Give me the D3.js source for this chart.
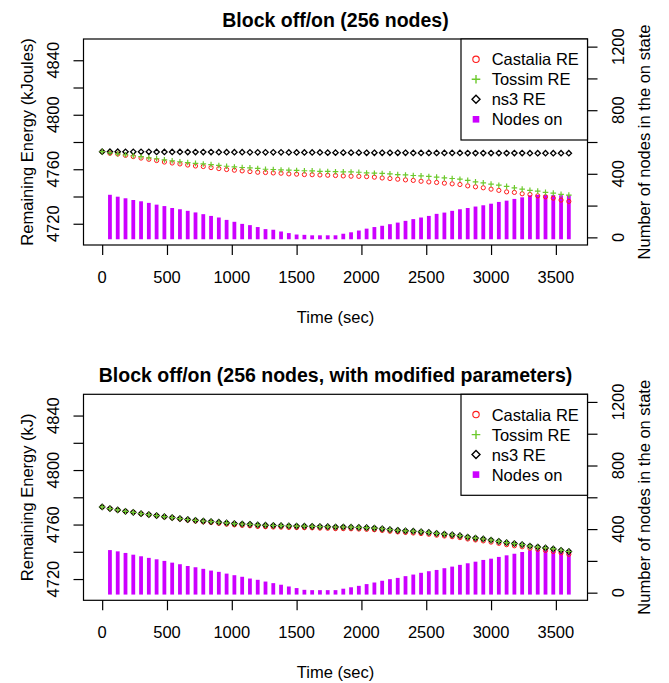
<!DOCTYPE html>
<html><head><meta charset="utf-8">
<script src="https://cdn.jsdelivr.net/npm/d3@7"></script>
<style>body{margin:0;background:#fff}</style>
</head><body>
<svg id="c" width="669" height="683"></svg>
<script>
// ---------------- data ----------------
const times = [0,60,120,180,240,300,360,420,480,540,600,660,720,780,840,900,960,1020,1080,1140,
  1200,1260,1320,1380,1440,1500,1560,1620,1680,1740,1800,1860,1920,1980,2040,2100,2160,2220,2280,2340,
  2400,2460,2520,2580,2640,2700,2760,2820,2880,2940,3000,3060,3120,3180,3240,3300,3360,3420,3480,3540,3600];
const barTimes = times.slice(1);

const castaliaTop = [4772.9,4771.7,4771.2,4770.2,4769.3,4768.2,4767.3,4766.4,4765.3,4764.6,
  4763.9,4763.1,4762.4,4762.0,4761.2,4760.5,4759.8,4759.3,4758.8,4758.3,
  4757.8,4757.6,4757.3,4757.1,4756.6,4756.4,4756.1,4756.0,4755.8,4755.6,
  4755.4,4755.1,4754.9,4754.8,4754.6,4754.2,4753.6,4753.2,4752.7,4752.2,
  4751.8,4751.2,4750.7,4750.3,4749.8,4749.3,4748.8,4747.8,4747.1,4746.4,
  4745.4,4744.5,4743.4,4743.0,4742.0,4741.5,4740.5,4739.8,4738.8,4737.4,4736.4];
const tossimTop = [4772.9,4772.0,4771.3,4770.6,4769.9,4769.2,4768.4,4767.7,4766.9,4766.2,
  4765.5,4764.9,4764.3,4763.9,4763.4,4762.8,4762.2,4761.7,4761.3,4761.0,
  4760.6,4760.0,4759.8,4759.5,4759.3,4759.1,4758.9,4758.8,4758.5,4758.4,
  4758.2,4758.1,4758.0,4757.8,4757.3,4757.1,4756.9,4756.6,4756.1,4755.8,
  4755.4,4755.1,4754.7,4754.2,4753.6,4753.2,4752.7,4751.8,4750.7,4750.0,
  4749.1,4748.3,4747.4,4746.4,4745.4,4744.5,4744.0,4743.0,4742.5,4741.6,4741.0];
const ns3Top = [4772.9,4772.9,4772.9,4772.8,4772.8,4772.8,4772.8,4772.7,4772.7,4772.7,
  4772.7,4772.6,4772.6,4772.6,4772.6,4772.5,4772.5,4772.5,4772.5,4772.4,
  4772.4,4772.4,4772.4,4772.4,4772.3,4772.3,4772.3,4772.3,4772.3,4772.2,
  4772.2,4772.2,4772.2,4772.2,4772.1,4772.1,4772.1,4772.1,4772.1,4772.1,
  4772.0,4772.0,4772.0,4772.0,4772.0,4772.0,4772.0,4771.9,4771.9,4771.9,
  4771.9,4771.9,4771.9,4771.9,4771.9,4771.8,4771.8,4771.8,4771.8,4771.8,4771.8];
const nodesTop = [256,244,234,223,215,205,194,185,173,165,
  155,145,134,123,113,98,86,73,65,53,
  40,36,25,15,6,4,1,1,1,1,
  11,20,31,43,53,61,71,81,92,103,
  113,123,136,144,155,165,173,182,190,200,
  211,219,230,240,253,255,255,255,253,253];

const castaliaBot = [4772.9,4771.7,4770.7,4769.7,4769.0,4767.9,4767.2,4766.5,4765.6,4764.9,
  4764.1,4763.3,4762.6,4762.0,4761.5,4760.9,4760.3,4759.8,4759.4,4759.1,
  4758.6,4758.4,4758.2,4758.1,4757.9,4757.8,4757.7,4757.6,4757.4,4757.3,
  4757.0,4757.0,4756.9,4756.7,4756.5,4756.2,4755.7,4755.1,4754.6,4754.2,
  4753.8,4753.4,4752.9,4752.2,4751.6,4751.1,4750.4,4749.4,4748.7,4748.0,
  4747.1,4746.2,4745.2,4744.4,4743.7,4742.6,4741.8,4741.0,4740.2,4739.2,4738.2];
const tossimBot = [4772.9,4771.7,4770.7,4769.7,4769.0,4768.0,4767.3,4766.6,4765.8,4765.1,
  4764.4,4763.7,4763.1,4762.6,4762.2,4761.7,4761.2,4760.7,4760.4,4760.2,
  4759.7,4759.5,4759.3,4759.2,4759.0,4758.9,4758.8,4758.7,4758.5,4758.4,
  4758.2,4758.2,4758.1,4757.9,4757.7,4757.4,4756.9,4756.3,4755.8,4755.4,
  4755.1,4754.7,4754.2,4753.5,4753.0,4752.5,4751.8,4750.8,4750.1,4749.4,
  4748.6,4747.7,4746.7,4746.0,4745.3,4744.2,4743.5,4742.8,4742.1,4741.1,4740.2];
const ns3Bot = [4772.9,4771.7,4770.7,4769.7,4769.0,4768.0,4767.3,4766.6,4765.8,4765.1,
  4764.4,4763.7,4763.1,4762.6,4762.2,4761.7,4761.2,4760.7,4760.4,4760.2,
  4759.7,4759.5,4759.3,4759.2,4759.0,4758.9,4758.8,4758.7,4758.5,4758.4,
  4758.2,4758.2,4758.1,4757.9,4757.7,4757.4,4756.9,4756.3,4755.8,4755.4,
  4755.1,4754.7,4754.2,4753.5,4753.0,4752.5,4751.8,4750.8,4750.1,4749.4,
  4748.6,4747.7,4746.7,4746.0,4745.3,4744.2,4743.5,4742.8,4742.1,4741.1,4740.2];
const nodesBot = [256,248,238,227,217,207,198,188,177,167,
  156,148,138,127,119,108,98,88,77,69,
  58,48,38,27,17,6,4,4,4,4,
  13,22,31,42,52,63,73,81,92,102,
  113,123,131,142,152,163,173,183,194,202,
  213,223,233,244,255,256,256,256,256,255];

const xTicks = [0,500,1000,1500,2000,2500,3000,3500];
const yTicks = [4720,4740,4760,4780,4800,4820,4840];
const yLabels = [4720,4760,4800,4840];
const y2Ticks = [0,200,400,600,800,1000,1200];
const y2Labels = [0,400,800,1200];
const legendLabels = ["Castalia RE","Tossim RE","ns3 RE","Nodes on"];
const titles = ["Block off/on (256 nodes)","Block off/on (256 nodes, with modified parameters)"];
const yTitles = ["Remaining Energy (kJoules)","Remaining Energy (kJ)"];
const xTitle = "Time (sec)";
const y2Title = "Number of nodes in the on state";

// ---------------- drawing ----------------
const FONT = '"Liberation Sans", Arial, Helvetica, sans-serif';
const RED = "#ff1a1a", GREEN = "#6cc92c", MAG = "#cc00ff";
const svg = d3.select("#c");

function pad(lo, hi){ const e=(hi-lo)*0.04; return [lo-e, hi+e]; }

function diamond(g, cx, cy, h, sw){
  g.append("path").attr("d",`M${cx},${cy-h}L${cx+h},${cy}L${cx},${cy+h}L${cx-h},${cy}Z`)
   .attr("fill","none").attr("stroke","#000").attr("stroke-width",sw);
}
function plus(g, cx, cy, h, sw){
  g.append("path").attr("d",`M${cx-h},${cy}H${cx+h}M${cx},${cy-h}V${cy+h}`)
   .attr("stroke",GREEN).attr("stroke-width",sw).attr("fill","none");
}

function panel(oy, k, cast, toss, ns3, nodes){
  const L=83.5, R=587.5, T=39+oy, B=245+oy;
  const x = d3.scaleLinear().domain(pad(0,3600)).range([L,R]);
  const y = d3.scaleLinear().domain(pad(4710,4850)).range([B,T]);
  const y2 = d3.scaleLinear().domain(pad(0,1200)).range([B,T]);
  const g = svg.append("g").attr("font-family",FONT);

  // bars (nodes on)
  g.append("g").selectAll("line").data(nodes).join("line")
    .attr("x1",(d,i)=>x(barTimes[i])).attr("x2",(d,i)=>x(barTimes[i]))
    .attr("y1",y2(0)).attr("y2",d=>y2(d))
    .attr("stroke",MAG).attr("stroke-width",3.8).attr("stroke-linecap","square");

  // castalia circles
  g.append("g").selectAll("circle").data(cast).join("circle")
    .attr("cx",(d,i)=>x(times[i])).attr("cy",d=>y(d)).attr("r",2.1)
    .attr("fill","none").attr("stroke",RED).attr("stroke-width",1);
  // ns3 diamonds
  const gd = g.append("g");
  ns3.forEach((d,i)=>diamond(gd, x(times[i]), y(d), 2.7, 1.3));
  // tossim plus
  const gp = g.append("g");
  toss.forEach((d,i)=>plus(gp, x(times[i]), y(d), 2.8, 1.2));

  // box
  g.append("rect").attr("x",L).attr("y",T).attr("width",R-L).attr("height",B-T)
    .attr("fill","none").attr("stroke","#000").attr("stroke-width",1.2);

  // axes
  const ax = g.append("g").attr("transform",`translate(0,${B})`)
    .call(d3.axisBottom(x).tickValues(xTicks).tickSize(10).tickFormat(""));
  const ay = g.append("g").attr("transform",`translate(${L},0)`)
    .call(d3.axisLeft(y).tickValues(yTicks).tickSize(10).tickFormat(""));
  const ay2 = g.append("g").attr("transform",`translate(${R},0)`)
    .call(d3.axisRight(y2).tickValues(y2Ticks).tickSize(10).tickFormat(""));
  [ax,ay,ay2].forEach(a=>{ a.select(".domain").remove();
    a.selectAll(".tick line").attr("stroke","#000").attr("stroke-width",1.2); });

  // tick labels
  g.append("g").selectAll("text").data(xTicks).join("text")
    .attr("x",d=>x(d)).attr("y",B+37.5).attr("text-anchor","middle")
    .attr("font-size",16.5).text(d=>d);
  g.append("g").selectAll("text").data(yLabels).join("text")
    .attr("transform",d=>`translate(59.2,${y(d)}) rotate(-90)`).attr("text-anchor","middle")
    .attr("font-size",16.5).text(d=>d);
  g.append("g").selectAll("text").data(y2Labels).join("text")
    .attr("transform",d=>`translate(624.2,${y2(d)}) rotate(-90)`).attr("text-anchor","middle")
    .attr("font-size",16.5).text(d=>d);

  // titles
  g.append("text").attr("x",(L+R)/2).attr("y",T-12.3).attr("text-anchor","middle")
    .attr("font-size",19.5).attr("font-weight","bold").text(titles[k]);
  g.append("text").attr("x",(L+R)/2).attr("y",B+78).attr("text-anchor","middle")
    .attr("font-size",16.5).text(xTitle);
  g.append("text").attr("transform",`translate(32.8,${(T+B)/2}) rotate(-90)`)
    .attr("text-anchor","middle").attr("font-size",16.5).text(yTitles[k]);
  g.append("text").attr("transform",`translate(650.3,${(T+B)/2}) rotate(-90)`)
    .attr("text-anchor","middle").attr("font-size",16.5).text(y2Title);

  // legend
  const lg = g.append("g");
  const LX = 461;
  lg.append("rect").attr("x",LX).attr("y",T).attr("width",R-LX).attr("height",101)
    .attr("fill","#fff").attr("stroke","#000").attr("stroke-width",1.2);
  const sx = 476, sy = k2 => T+20.3+20*k2;
  lg.append("circle").attr("cx",sx).attr("cy",sy(0)).attr("r",3.2)
    .attr("fill","none").attr("stroke",RED).attr("stroke-width",1.1);
  plus(lg, sx, sy(1), 4.3, 1.4);
  diamond(lg, sx, sy(2), 4.0, 1.4);
  lg.append("rect").attr("x",sx-3.3).attr("y",sy(3)-3.3).attr("width",6.6).attr("height",6.6).attr("fill",MAG);
  lg.selectAll("text.l").data(legendLabels).join("text").attr("class","l")
    .attr("x",491.7).attr("y",(d,i)=>T+26.2+20*i).attr("font-size",16.5).text(d=>d);
}

panel(0, 0, castaliaTop, tossimTop, ns3Top, nodesTop);
panel(355.3, 1, castaliaBot, tossimBot, ns3Bot, nodesBot);
</script>
</body></html>
